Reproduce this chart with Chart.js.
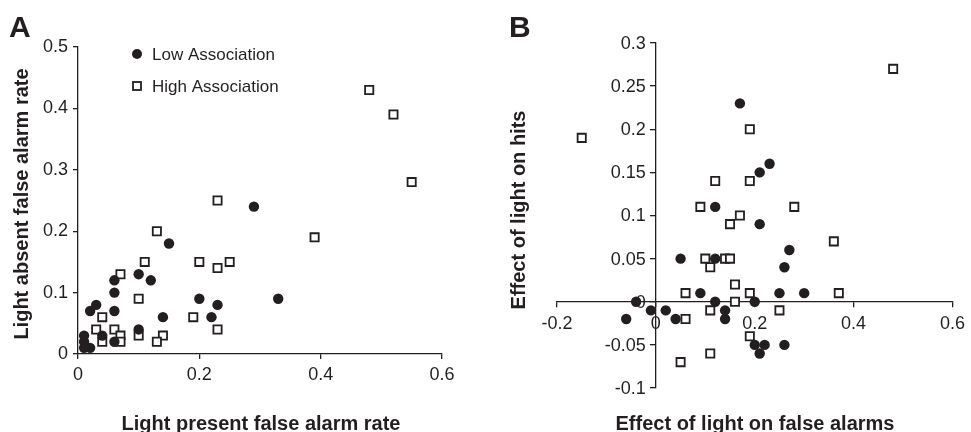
<!DOCTYPE html>
<html>
<head>
<meta charset="utf-8">
<script src="https://cdn.jsdelivr.net/npm/chart.js@4.4.1/dist/chart.umd.min.js"></script>
<style>
  body { margin: 0; background: #fff; }
  #wrap { position: relative; width: 971px; height: 432px; }
  canvas { position: absolute; top: 0; }
</style>
</head>
<body>
<div id="wrap">
  <canvas id="chartA" width="485" height="432" style="left:0"></canvas>
  <canvas id="chartB" width="486" height="432" style="left:485px"></canvas>
</div>
<script>
// --- data, panel A (false alarm rates) ---
const lowA_x  = [0.29, 0.15, 0.10, 0.06, 0.12, 0.06, 0.20, 0.33, 0.23, 0.03, 0.02, 0.06, 0.14, 0.22, 0.10, 0.04, 0.06, 0.01, 0.01, 0.02, 0.01];
const lowA_y  = [0.24, 0.18, 0.13, 0.12, 0.12, 0.10, 0.09, 0.09, 0.08, 0.08, 0.07, 0.07, 0.06, 0.06, 0.04, 0.03, 0.02, 0.03, 0.02, 0.01, 0.01];
const highA_x = [0.48, 0.52, 0.55, 0.23, 0.13, 0.39, 0.11, 0.20, 0.25, 0.23, 0.07, 0.10, 0.19, 0.04, 0.03, 0.06, 0.23, 0.07, 0.10, 0.14, 0.04, 0.07, 0.13];
const highA_y = [0.43, 0.39, 0.28, 0.25, 0.20, 0.19, 0.15, 0.15, 0.15, 0.14, 0.13, 0.09, 0.06, 0.06, 0.04, 0.04, 0.04, 0.03, 0.03, 0.03, 0.02, 0.02, 0.02];

// --- data, panel B (effect of light) ---
const lowB_x  = [0.17, 0.23, 0.21, 0.12, 0.21, 0.27, 0.05, 0.12, 0.26, 0.09, 0.25, 0.30, -0.04, 0.12, 0.20, -0.01, 0.02, 0.14, -0.06, 0.04, 0.14, 0.20, 0.22, 0.21, 0.26];
const lowB_y  = [0.23, 0.16, 0.15, 0.11, 0.09, 0.06, 0.05, 0.05, 0.04, 0.01, 0.01, 0.01, 0, 0, 0, -0.01, -0.01, -0.01, -0.02, -0.02, -0.02, -0.05, -0.05, -0.06, -0.05];
const highB_x = [0.48, -0.15, 0.19, 0.12, 0.19, 0.09, 0.28, 0.17, 0.15, 0.36, 0.10, 0.14, 0.15, 0.11, 0.16, 0.06, 0.19, 0.37, 0.16, 0.11, 0.25, 0.06, 0.19, 0.11, 0.05];
const highB_y = [0.27, 0.19, 0.20, 0.14, 0.14, 0.11, 0.11, 0.10, 0.09, 0.07, 0.05, 0.05, 0.05, 0.04, 0.02, 0.01, 0.01, 0.01, 0, -0.01, -0.01, -0.02, -0.04, -0.06, -0.07];

const seriesLabels = ['Low Association', 'High Association'];

const ink = '#231f20';
const fam = '"Liberation Sans", Arial, sans-serif';
Chart.defaults.font.family = fam;
Chart.defaults.color = ink;

function pts(xs, ys) {
    return xs.map((x, i) => ({ x: x, y: ys[i] }));
}
function fmt(v) {
    return String(Math.round(v * 1000) / 1000);
}

// texts, legend and (for B) y tick labels drawn after the chart
const panelText = {
    id: 'panelText',
    afterDraw(chart, args, opts) {
        const ctx = chart.ctx;
        (opts.items || []).forEach(t => {
            ctx.save();
            ctx.font = t.font;
            ctx.fillStyle = ink;
            ctx.textAlign = t.align || 'center';
            ctx.textBaseline = 'alphabetic';
            ctx.translate(t.x, t.y);
            if (t.rotate) ctx.rotate(t.rotate);
            ctx.fillText(t.text, 0, 0);
            ctx.restore();
        });
        (opts.legend || []).forEach(l => {
            const ds = chart.data.datasets[l.index];
            ctx.save();
            ctx.strokeStyle = ink;
            ctx.fillStyle = ink;
            ctx.lineWidth = 1.8;
            if (ds.pointStyle === 'circle') {
                ctx.beginPath();
                ctx.arc(l.x, l.y, 5, 0, Math.PI * 2);
                ctx.fill();
            } else {
                ctx.fillStyle = '#fff';
                ctx.fillRect(l.x - 4, l.y - 4, 8, 8);
                ctx.strokeRect(l.x - 4, l.y - 4, 8, 8);
            }
            ctx.fillStyle = ink;
            ctx.font = '17px ' + fam;
            ctx.textAlign = 'left';
            ctx.textBaseline = 'middle';
            ctx.fillText(ds.label, l.x + 15, l.y + 1);
            ctx.restore();
        });
        if (opts.crossLabels) {
            const ys = chart.scales.y, xs = chart.scales.x;
            const x0 = xs.getPixelForValue(0);
            ctx.save();
            ctx.font = '18px ' + fam;
            ctx.fillStyle = ink;
            ctx.textAlign = 'right';
            ctx.textBaseline = 'middle';
            ys.ticks.forEach(t => {
                ctx.fillText(fmt(t.value), x0 - 10, ys.getPixelForValue(t.value) + 1);
            });
            ctx.restore();
        }
    }
};

function datasets(lowPts, highPts) {
    return [
        {
            label: seriesLabels[0], data: lowPts, pointStyle: 'circle',
            pointRadius: 5.2, pointBackgroundColor: ink, pointBorderColor: ink, pointBorderWidth: 0, order: 0
        },
        {
            label: seriesLabels[1], data: highPts, pointStyle: 'rect',
            pointRadius: 5.8, pointBackgroundColor: '#fff', pointBorderColor: ink, pointBorderWidth: 1.8, order: 1
        }
    ];
}

function axisStyle() {
    return {
        grid: { display: true, drawOnChartArea: false, drawTicks: true, tickLength: 5, color: ink, lineWidth: 1.3 },
        border: { display: true, color: ink, width: 1.3 }
    };
}

const bold = 'bold 20px ' + fam;
const letter = 'bold 30px ' + fam;

// --- panel A ---
new Chart(document.getElementById('chartA'), {
    type: 'scatter',
    data: { datasets: datasets(pts(lowA_x, lowA_y), pts(highA_x, highA_y)) },
    options: {
        responsive: false,
        animation: false,
        layout: { padding: { left: 0, top: 47, right: 43, bottom: 48 } },
        plugins: {
            legend: { display: false },
            tooltip: { enabled: false },
            panelText: {
                items: [
                    { text: 'A', x: 9, y: 37, font: letter, align: 'left' },
                    { text: 'Light present false alarm rate', x: 261, y: 430, font: bold },
                    { text: 'Light absent false alarm rate', x: 28, y: 204, font: bold, rotate: -Math.PI / 2 }
                ],
                legend: [
                    { index: 0, x: 137, y: 54 },
                    { index: 1, x: 137, y: 86 }
                ]
            }
        },
        scales: {
            x: {
                type: 'linear', min: 0, max: 0.6,
                ...axisStyle(),
                ticks: { stepSize: 0.2, padding: 5, font: { size: 18 }, callback: fmt },
                afterFit: s => { s.height = 30; }
            },
            y: {
                type: 'linear', min: 0, max: 0.5,
                ...axisStyle(),
                ticks: { stepSize: 0.1, padding: 5, font: { size: 18 }, callback: fmt },
                afterFit: s => { s.width = 78; }
            }
        }
    },
    plugins: [panelText]
});

// --- panel B ---
new Chart(document.getElementById('chartB'), {
    type: 'scatter',
    data: { datasets: datasets(pts(lowB_x, lowB_y), pts(highB_x, highB_y)) },
    options: {
        responsive: false,
        animation: false,
        layout: { padding: { left: 72, top: 43, right: 12, bottom: 44 } },
        plugins: {
            legend: { display: false },
            tooltip: { enabled: false },
            panelText: {
                crossLabels: true,
                items: [
                    { text: 'B', x: 24, y: 37, font: letter, align: 'left' },
                    { text: 'Effect of light on false alarms', x: 270, y: 430, font: bold },
                    { text: 'Effect of light on hits', x: 40, y: 210, font: bold, rotate: -Math.PI / 2 }
                ]
            }
        },
        scales: {
            x: {
                type: 'linear', min: -0.2, max: 0.6, position: { y: 0 },
                ...axisStyle(),
                ticks: { stepSize: 0.2, padding: 6, font: { size: 18 }, callback: fmt }
            },
            y: {
                type: 'linear', min: -0.1, max: 0.3, position: { x: 0 },
                ...axisStyle(),
                ticks: { stepSize: 0.05, display: false }
            }
        }
    },
    plugins: [panelText]
});
</script>
</body>
</html>
